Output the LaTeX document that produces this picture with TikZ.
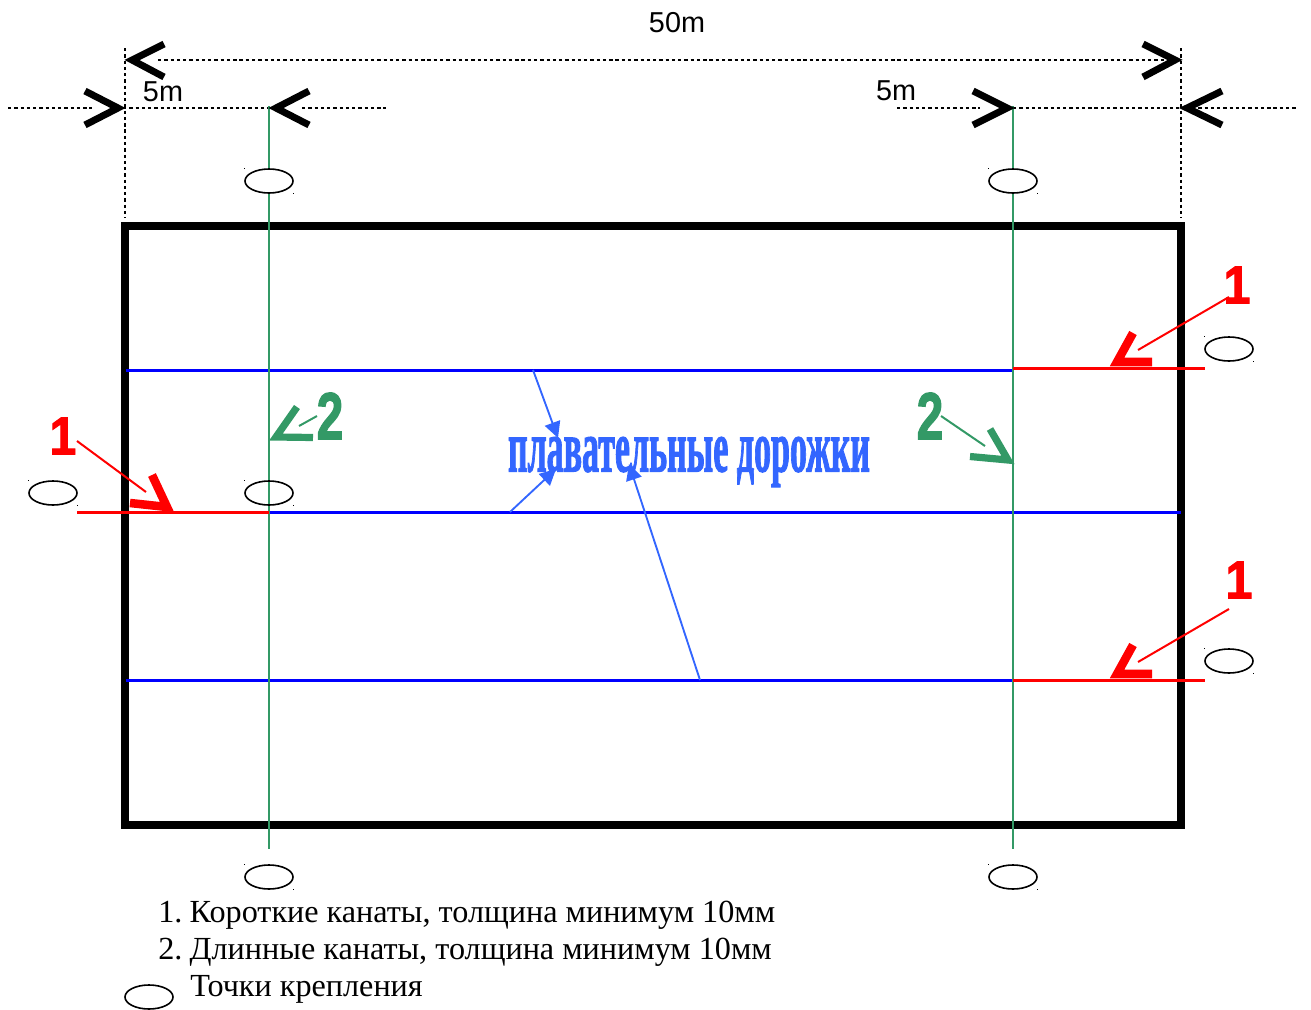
\documentclass[tikz,border=0pt]{standalone}
\usepackage{fontspec}
\usepackage{graphicx}
\setmainfont{Liberation Serif}
\newfontfamily\arialf{Liberation Sans}
\newfontfamily\arialb[FakeBold=2]{Liberation Sans Bold}
\newfontfamily\serifb[FakeBold=2]{Liberation Serif Bold}
\usetikzlibrary{shapes.geometric,arrows.meta}
\definecolor{rgreen}{HTML}{339966}
\definecolor{rlabel}{HTML}{3366FF}
\tikzset{
  oval/.style={ellipse,draw=black,line width=1.2pt,minimum width=36pt,minimum height=18pt,inner sep=0pt},
  speck/.style={fill=black,inner sep=0pt,minimum size=.8pt},
  dimline/.style={black,line width=1.7pt,dash pattern=on 2.5pt off 2.2pt},
  chev/.style={black,line width=5.2pt,miter limit=10},
  chevred/.style={red,line width=6.4pt,miter limit=10},
  chevgreen/.style={rgreen,line width=5.4pt,miter limit=10},
  lane/.style={blue,line width=2.2pt},
  shortrope/.style={red,line width=1.6pt},
  longrope/.style={rgreen,line width=1.7pt},
  leadred/.style={red,line width=1.5pt},
  leadgreen/.style={rgreen,line width=1.5pt},
  lanelead/.style={rlabel,line width=1.4pt,-{Triangle[length=12pt,width=12pt]}},
  dimtext/.style={font=\arialf\fontsize{21.6}{24}\selectfont,inner sep=0pt},
  legend/.style={font=\fontsize{24.15}{28}\selectfont,anchor=base west,inner sep=0pt},
  numred/.style={text=red,inner sep=0pt,xscale=.9,font=\arialb\fontsize{40}{44}\selectfont},
  numgreen/.style={text=rgreen,inner sep=0pt,xscale=.72,font=\arialb\fontsize{50}{54}\selectfont}
}
\begin{document}
\begin{tikzpicture}[x=.75pt,y=-.75pt]
\useasboundingbox (0,0) rectangle (1311,1010);
% pool
\draw[black,line width=6pt] (125,226) rectangle (1181,825);
% dimension lines
\draw[dimline] (125,48) -- (125,218);
\draw[dimline] (1181,48) -- (1181,218);
\draw[dimline] (158,60) -- (1178,60);
\draw[dimline] (8,108) -- (92,108);
\draw[dimline] (123,108) -- (270,108);
\draw[dimline] (302,108) -- (386,108);
\draw[dimline] (897,108) -- (980,108);
\draw[dimline] (1013,108) -- (1180,108);
\draw[dimline] (1192,108) -- (1298,108);
% named end points
\coordinate (gl1) at (269,106); \coordinate (gl2) at (269,849);
\coordinate (gr1) at (1013,106); \coordinate (gr2) at (1013,849);
\coordinate (b1a) at (126,370.4); \coordinate (b1b) at (1013,370.4);
\coordinate (b2a) at (269,512.5); \coordinate (b2b) at (1181,512.5);
\coordinate (b3a) at (126,680.5); \coordinate (b3b) at (1013,680.5);
\coordinate (r1a) at (1013,368.5); \coordinate (r1b) at (1205,368.5);
\coordinate (r2a) at (77,512.5); \coordinate (r2b) at (269,512.5);
\coordinate (r3a) at (1013,680.5); \coordinate (r3b) at (1205,680.5);
% lanes and ropes
\draw[lane] (b1a) -- (b1b);
\draw[lane] (b2a) -- (b2b);
\draw[lane] (b3a) -- (b3b);
\draw[longrope] (gl1) -- (gl2);
\draw[longrope] (gr1) -- (gr2);
\draw[shortrope] (r1a) -- (r1b);
\draw[shortrope] (r2a) -- (r2b);
\draw[shortrope] (r3a) -- (r3b);
% attachment points
\node[oval,fill=white] (o1) at (269,181) {};
\node[oval,fill=white] (o2) at (1013,181) {};
\node[oval] (o3) at (1229,349) {};
\node[oval] (o4) at (53,493) {};
\node[oval] (o5) at (269,493) {};
\node[oval] (o6) at (1229,661) {};
\node[oval] (o7) at (269,877) {};
\node[oval] (o8) at (1013,877) {};
\node[oval] (o9) at (149,997) {};
\foreach \o in {o1,o2,o3,o4,o5,o6,o7,o8}{
  \node[speck] at (\o.west |- \o.north) {};
  \node[speck] at (\o.east |- \o.south) {};
}
% black chevrons
\draw[chev] (164,44) -- (132,60) -- (164,77);
\draw[chev] (85,91) -- (118,108) -- (85,125);
\draw[chev] (309,91) -- (276,108) -- (309,125);
\draw[chev] (1143,44) -- (1175,60) -- (1143,77);
\draw[chev] (973,91) -- (1007,108) -- (973,125);
\draw[chev] (1222,91) -- (1187,108) -- (1222,125);
% dimension text
\node[dimtext] (d50) at (677,23) {50m};
\node[dimtext] (d5l) at (163,92) {5m};
\node[dimtext] (d5r) at (896,91) {5m};
% red labels
\node[numred] (n1l) at (63,436) {1};
\node[numred] (n1a) at (1237,285) {1};
\node[numred] (n1b) at (1239,580) {1};
\coordinate (l1e) at (146,492);
\coordinate (l2e) at (1138,350);
\coordinate (l3e) at (1138,662);
\coordinate (l1s) at (77,441);
\coordinate (l2s) at (1229,297);
\coordinate (l3s) at (1229,609);
\draw[leadred] (l1s) -- (l1e);
\draw[leadred] (l2s) -- (l2e);
\draw[leadred] (l3s) -- (l3e);
\draw[chevred] (152,475) -- (167,507) -- (130,503);
\draw[chevred] (1133,333) -- (1117,362) -- (1152,362);
\draw[chevred] (1133,645) -- (1117,674) -- (1152,674);
% green labels
\node[numgreen] (n2l) at (330,416) {2};
\node[numgreen] (n2r) at (930,416) {2};
\coordinate (g1s) at (317,416); \coordinate (g1e) at (299,426);
\coordinate (g2s) at (941,416); \coordinate (g2e) at (985,446);
\draw[leadgreen] (g1s) -- (g1e);
\draw[leadgreen] (g2s) -- (g2e);
\draw[chevgreen] (297,407) -- (276,437) -- (313,437.5);
\draw[chevgreen] (990,429) -- (1008,460) -- (970,456.5);
% lane label
\node[inner sep=0pt,text=rlabel] (lbl) at (689,462) {\resizebox*{271.5pt}{37.5pt}{\serifb плавательные дорожки}};
\coordinate (a1) at (533,370); \coordinate (a1e) at (558,438);
\coordinate (a2) at (510,512); \coordinate (a2e) at (556,469);
\coordinate (a3) at (700,680); \coordinate (a3e) at (629,464);
\draw[lanelead] (a1) -- (a1e);
\draw[lanelead] (a2) -- (a2e);
\draw[lanelead] (a3) -- (a3e);
% legend
\node[legend] (t1) at (158,922) {1.\hspace{-2.6pt} Короткие канаты, толщина минимум 10мм};
\node[legend] (t2) at (158,959) {2.\hspace{-2.6pt} Длинные канаты, толщина минимум 10мм};
\node[legend] (t3) at (190,996) {Точки крепления};
\end{tikzpicture}
\end{document}
